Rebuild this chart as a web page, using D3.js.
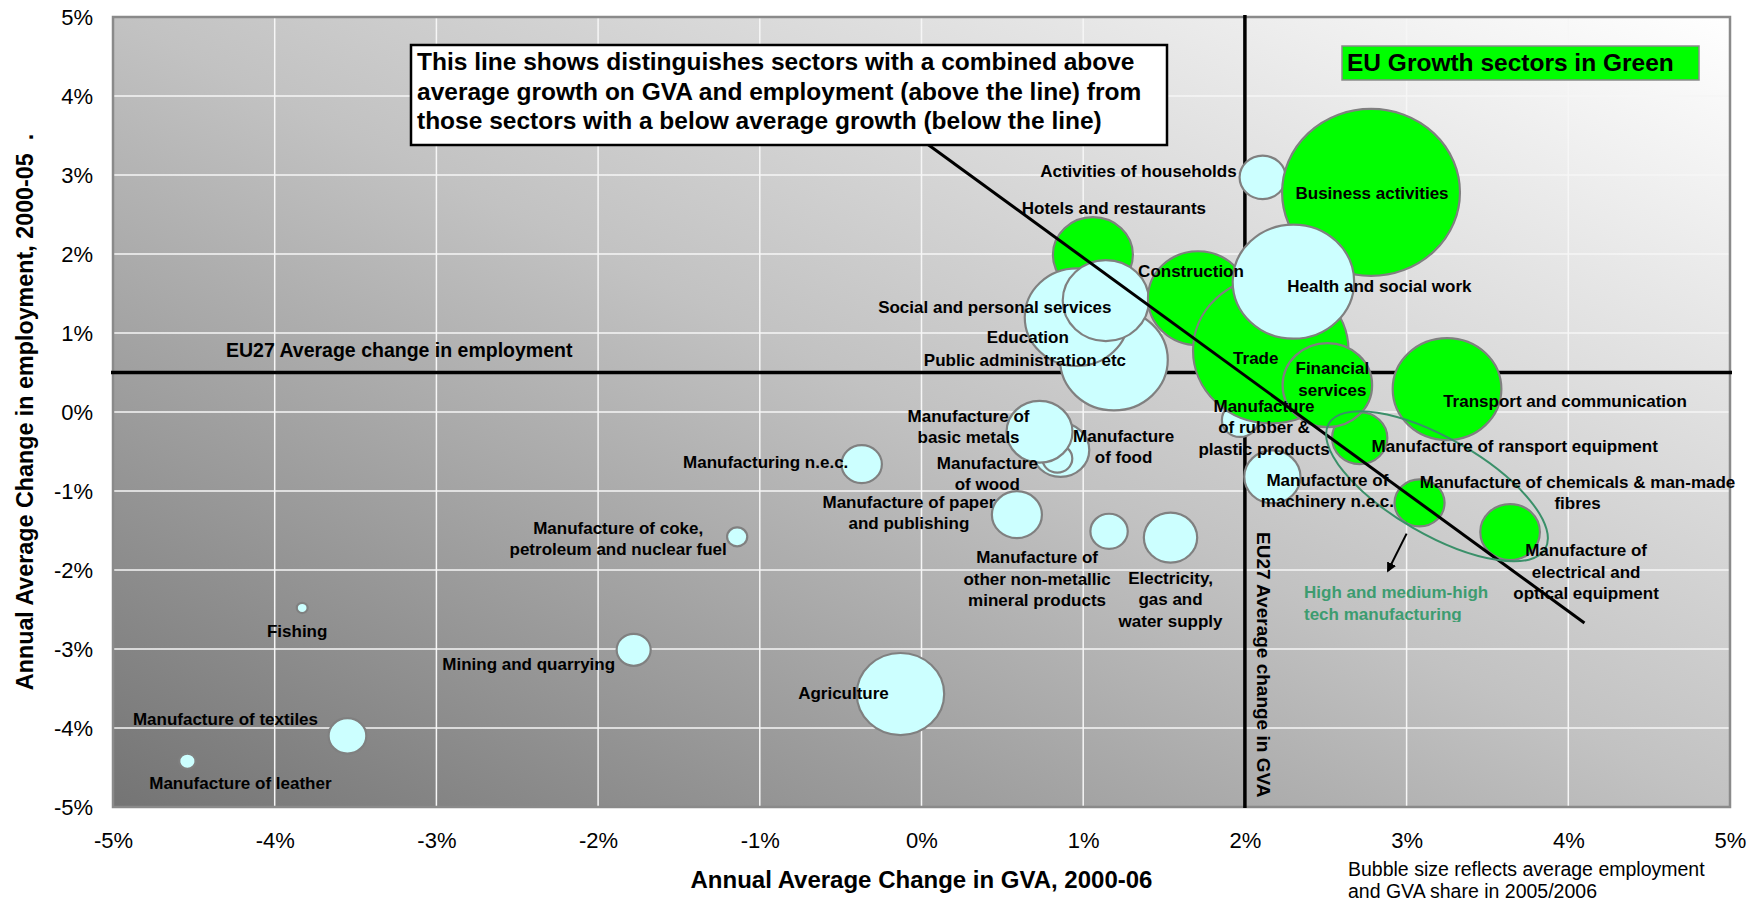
<!DOCTYPE html>
<html>
<head>
<meta charset="utf-8">
<script src="https://cdn.jsdelivr.net/npm/d3@7"></script>
<style>
  body { margin: 0; background: #fff; }
  text { font-family: "Liberation Sans", Arial, sans-serif; white-space: pre; }
</style>
</head>
<body>
<div id="chart"></div>
<script>
// Sector data: GVA change (%), employment change (%), share (bubble size), growth sector flag
const sectors = [
  "Agriculture", "Mining and quarrying", "Fishing", "Manufacture of textiles", "Manufacture of leather",
  "Manufacture of coke", "Manufacturing n.e.c.", "Manufacture of paper", "Manufacture of non-metallic",
  "Electricity", "Manufacture of food", "Manufacture of wood", "Manufacture of basic metals",
  "Hotels and restaurants", "Public administration", "Education", "Social and personal services",
  "Activities of households", "Business activities", "Construction", "Manufacture of rubber",
  "Trade", "Health and social work", "Manufacture of transport equipment", "Financial services",
  "Transport and communication", "Manufacture of machinery", "Manufacture of chemicals",
  "Manufacture of electrical"
];
const gvaChange = [-0.13, -1.78, -3.83, -3.55, -4.54, -1.14, -0.37, 0.59, 1.16, 1.54, 0.86, 0.84, 0.73,
  1.06, 1.19, 0.96, 1.14, 2.11, 2.78, 1.71, 1.97, 2.16, 2.30, 2.71, 2.51, 3.25, 2.17, 3.08, 3.64];
const empChange = [-3.57, -3.01, -2.48, -4.10, -4.42, -1.58, -0.66, -1.30, -1.51, -1.59, -0.48, -0.59, -0.25,
  1.99, 0.66, 1.20, 1.41, 2.97, 2.78, 1.44, -0.10, 0.78, 1.65, -0.33, 0.34, 0.29, -0.82, -1.15, -1.52];
const bubbleShare = [2.9, 0.44, 0.045, 0.54, 0.1, 0.155, 0.62, 0.95, 0.53, 1.08, 1.25, 0.34, 1.65,
  2.43, 4.4, 4.1, 2.82, 0.81, 12.0, 3.8, 0.5, 9.17, 5.6, 1.16, 3.04, 4.48, 1.2, 0.95, 1.35];
const growthSector = [false, false, false, false, false, false, false, false, false, false, false, false, false,
  true, false, false, false, false, true, true, false, true, false, true, true, true, false, true, true];

// Label text (lines) and offset from bubble centre in px
const labelLines = [
  ["Agriculture"], ["Mining and quarrying"], ["Fishing"], ["Manufacture of textiles"], ["Manufacture of leather"],
  ["Manufacture of coke,", "petroleum and nuclear fuel"], ["Manufacturing n.e.c."],
  ["Manufacture of paper", "and publishing"], ["Manufacture of", "other non-metallic", "mineral products"],
  ["Electricity,", "gas and", "water supply"], ["Manufacture", "of food"], ["Manufacture", "of wood"],
  ["Manufacture of", "basic metals"], ["Hotels and restaurants"], ["Public administration etc"],
  ["Education"], ["Social and personal services"], ["Activities of households"], ["Business activities"],
  ["Construction"], ["Manufacture", "of rubber &", "plastic products"], ["Trade"], ["Health and social work"],
  ["Manufacture of ransport equipment"], ["Financial", "services"], ["Transport and communication"],
  ["Manufacture of", "machinery n.e.c."], ["Manufacture of chemicals & man-made", "fibres"],
  ["Manufacture of", "electrical and", "optical equipment"]
];
const labelOffset = [
  [-57, 5], [-105, 20], [-5, 29], [-122, -11], [53, 28], [-119, -3], [-96, 4], [-108, -7], [-72, 32],
  [0, 46], [63, -8], [-70, 10], [-71, -10], [21, -41], [-89, 6], [-49, 26], [-111, 12], [-26, 0],
  [1, 7], [-7, -21], [24, -8], [-15, 14], [86, 10], [155, 14], [5, -11], [118, 18], [55, 9],
  [158, -15], [76, 24]
];

const ticks = [-5, -4, -3, -2, -1, 0, 1, 2, 3, 4, 5];
const avgGVA = 2.0;
const avgEmp = 0.5;
const trendLine = [[0.027, 3.405], [4.10, -2.67]];
const trendHidden = [[-0.37, 3.997], [0.027, 3.405]];
const hiTechCentre = [3.188, -0.94];
const arrowLine = [[3.0, -1.54], [2.885, -2.01]];

const W = 1755, H = 903;
const M = {left: 113, right: 25, top: 17, bottom: 96};
const PW = W - M.left - M.right;
const PH = H - M.top - M.bottom;
const FONT = '"Liberation Sans", Arial, sans-serif';

const svg = d3.select("#chart").append("svg")
  .attr("width", W).attr("height", H);

const defs = svg.append("defs");
const grad = defs.append("linearGradient").attr("id", "bg")
  .attr("x1", 0).attr("y1", 1).attr("x2", 1).attr("y2", 0);
grad.append("stop").attr("offset", "0%").attr("stop-color", "#747474");
grad.append("stop").attr("offset", "50%").attr("stop-color", "#c2c2c2");
grad.append("stop").attr("offset", "100%").attr("stop-color", "#ffffff");
defs.append("marker").attr("id", "arrow")
  .attr("viewBox", "0 0 10 10").attr("refX", 8).attr("refY", 5)
  .attr("markerWidth", 5).attr("markerHeight", 5).attr("orient", "auto")
  .append("path").attr("d", "M0,0 L10,5 L0,10 z").attr("fill", "#000");
defs.append("clipPath").attr("id", "hiclip")
  .append("rect").attr("x", 0).attr("y", 0).attr("width", W).attr("height", 622);

const g = svg.append("g").attr("transform", `translate(${M.left},${M.top})`);

const x = d3.scaleLinear().domain([-5, 5]).range([0, PW]);
const y = d3.scaleLinear().domain([-5, 5]).range([PH, 0]);
const r = d3.scaleSqrt().domain([0, 12]).range([0, 83.5]);
const ASPECT = 1.065;

// Background
g.append("rect").attr("width", PW).attr("height", PH).attr("fill", "url(#bg)");

// Gridlines
g.append("g").selectAll("line").data(ticks.slice(1, -1)).enter().append("line")
  .attr("x1", d => x(d)).attr("x2", d => x(d)).attr("y1", 0).attr("y2", PH)
  .attr("stroke", "#f6f6f6").attr("stroke-width", 1.5);
g.append("g").selectAll("line").data(ticks.slice(1, -1)).enter().append("line")
  .attr("y1", d => y(d)).attr("y2", d => y(d)).attr("x1", 0).attr("x2", PW)
  .attr("stroke", "#f6f6f6").attr("stroke-width", 1.5);

g.append("rect").attr("width", PW).attr("height", PH)
  .attr("fill", "none").attr("stroke", "#8a8a8a").attr("stroke-width", 2.5);

// EU27 average lines
g.append("line").attr("x1", -2).attr("x2", PW + 2).attr("y1", y(avgEmp)).attr("y2", y(avgEmp))
  .attr("stroke", "#000").attr("stroke-width", 3.5);
g.append("line").attr("x1", x(avgGVA)).attr("x2", x(avgGVA)).attr("y1", -2).attr("y2", PH + 1)
  .attr("stroke", "#000").attr("stroke-width", 3.5);

// Bubbles
const idx = d3.range(sectors.length);
g.append("g").selectAll("ellipse").data(idx).enter().append("ellipse")
  .attr("cx", i => x(gvaChange[i])).attr("cy", i => y(empChange[i]))
  .attr("rx", i => r(bubbleShare[i]) * ASPECT).attr("ry", i => r(bubbleShare[i]))
  .attr("fill", i => growthSector[i] ? "#00ff00" : "#ccffff")
  .attr("stroke", "#808080").attr("stroke-width", 2.2);

// Trend line
const line = d3.line().x(d => x(d[0])).y(d => y(d[1]));
g.append("path").attr("d", line(trendLine)).attr("stroke", "#000").attr("stroke-width", 3).attr("fill", "none");

// High-tech ellipse and arrow
g.append("ellipse")
  .attr("transform", `translate(${x(hiTechCentre[0])},${y(hiTechCentre[1])}) rotate(30)`)
  .attr("rx", 125).attr("ry", 48)
  .attr("fill", "none").attr("stroke", "#3a9069").attr("stroke-width", 2);
g.append("path").attr("d", line(arrowLine)).attr("stroke", "#000").attr("stroke-width", 2)
  .attr("fill", "none").attr("marker-end", "url(#arrow)");

// Bubble labels
const lab = g.append("g").attr("font-size", 17).attr("font-weight", "bold").attr("fill", "#000");
idx.forEach(i => {
  const t = lab.append("text")
    .attr("x", x(gvaChange[i]) + labelOffset[i][0])
    .attr("y", y(empChange[i]) + labelOffset[i][1])
    .attr("text-anchor", i === 17 ? "end" : "middle");
  labelLines[i].forEach((s, k) => {
    t.append("tspan").attr("x", x(gvaChange[i]) + labelOffset[i][0])
      .attr("dy", k === 0 ? 0 : 21.5).text(s);
  });
});

// EU27 labels
svg.append("text").attr("x", 226).attr("y", 357).attr("font-size", 19.5).attr("font-weight", "bold")
  .text("EU27 Average change in employment");
svg.append("text").attr("transform", "translate(1257,532) rotate(90)")
  .attr("font-size", 19).attr("font-weight", "bold").text("EU27 Average change in GVA");

// High tech label
const hi = svg.append("text").attr("clip-path", "url(#hiclip)").attr("font-size", 17)
  .attr("font-weight", "bold").attr("fill", "#3d9c70");
hi.append("tspan").attr("x", 1304).attr("y", 598).text("High and medium-high");
hi.append("tspan").attr("x", 1304).attr("y", 620).text("tech manufacturing");

// Explanation box
svg.append("rect").attr("x", 411).attr("y", 45).attr("width", 756).attr("height", 100)
  .attr("fill", "#fff").attr("stroke", "#000").attr("stroke-width", 2.5);
g.append("path").attr("d", line(trendHidden)).attr("stroke", "#d4d4d4").attr("stroke-width", 2)
  .attr("stroke-dasharray", "2,1").attr("fill", "none");
const boxText = svg.append("text").attr("font-size", 24.5).attr("font-weight", "bold");
["This line shows distinguishes sectors with a combined above",
 "average growth on GVA and employment (above the line) from",
 "those sectors with a below average growth (below the line)"].forEach((s, k) => {
  boxText.append("tspan").attr("x", 417).attr("y", 70 + k * 29.5).text(s);
});

// Growth legend box
svg.append("rect").attr("x", 1342).attr("y", 46).attr("width", 357).attr("height", 34)
  .attr("fill", "#00ff00").attr("stroke", "#8a8a8a").attr("stroke-width", 1.5);
svg.append("text").attr("x", 1347).attr("y", 71).attr("font-size", 24.5).attr("font-weight", "bold")
  .text("EU Growth sectors in Green");

// Axes
const xAxis = g.append("g").attr("transform", `translate(0,${PH})`)
  .call(d3.axisBottom(x).tickValues(ticks).tickFormat(d => d + "%").tickSize(0).tickPadding(25));
xAxis.select(".domain").remove();
xAxis.attr("font-family", FONT).attr("font-size", 22);
xAxis.selectAll("text").attr("fill", "#000");

const yAxis = g.append("g")
  .call(d3.axisLeft(y).tickValues(ticks).tickFormat(d => d + "%").tickSize(0).tickPadding(20));
yAxis.select(".domain").remove();
yAxis.attr("font-family", FONT).attr("font-size", 22);
yAxis.selectAll("text").attr("fill", "#000");

// Axis titles
svg.append("text").attr("x", M.left + PW / 2).attr("y", 888).attr("text-anchor", "middle")
  .attr("font-size", 24).attr("font-weight", "bold").text("Annual Average Change in GVA, 2000-06");
svg.append("text").attr("transform", `translate(33,${M.top + PH / 2}) rotate(-90)`)
  .attr("text-anchor", "middle").attr("font-size", 23.3).attr("font-weight", "bold")
  .text("Annual Average Change in employment, 2000-05  .");

// Note
const note = svg.append("text").attr("font-size", 19.5).attr("fill", "#000");
note.append("tspan").attr("x", 1348).attr("y", 876).text("Bubble size reflects average employment");
note.append("tspan").attr("x", 1348).attr("y", 898).text("and GVA share in 2005/2006");
</script>
</body>
</html>
